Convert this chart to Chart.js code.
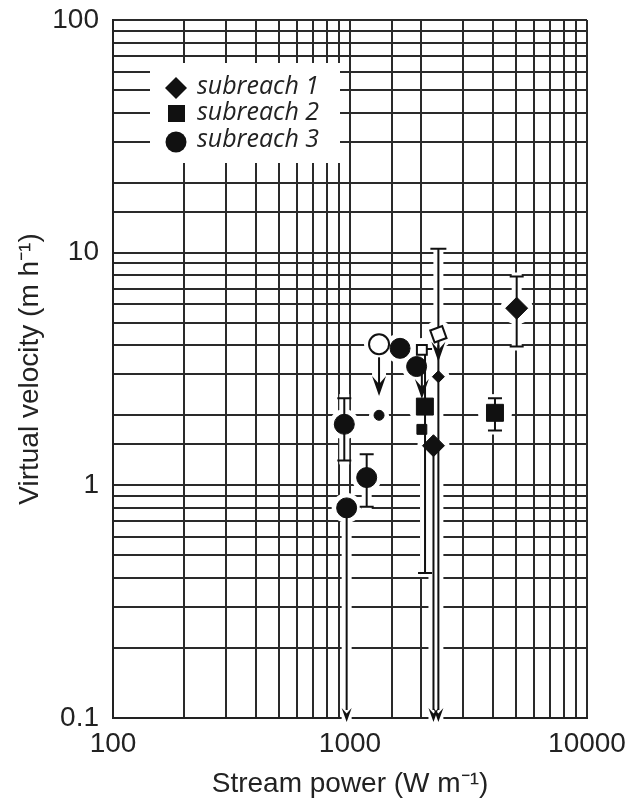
<!DOCTYPE html>
<html>
<head>
<meta charset="utf-8">
<script src="https://cdn.jsdelivr.net/npm/chart.js@4.4.1/dist/chart.umd.min.js"></script>
<style>
  html, body { margin: 0; padding: 0; background: #fff; }
  #wrap { width: 628px; height: 803px; }
</style>
</head>
<body>
<div id="wrap"><canvas id="chart" width="628" height="803"></canvas></div>
<script>
// labelled ticks
const powerTicks = [100, 1000, 10000];
const velocityTicks = [0.1, 1, 10, 100];

// main symbols (stream power W m-1, virtual velocity m h-1)
const sub1Power = [5050, 2250];
const sub1Velocity = [5.77, 1.48];
const sub2Power = [4090, 2070];
const sub2Velocity = [2.05, 2.18];
const sub3Power = [946, 1176, 968, 1626, 1910];
const sub3Velocity = [1.83, 1.08, 0.80, 3.88, 3.24];

// small filled symbols
const sub1SmallPower = [2360];
const sub1SmallVelocity = [2.93];
const sub2SmallPower = [2010];
const sub2SmallVelocity = [1.74];
const sub3SmallPower = [1326];
const sub3SmallVelocity = [2.0];

// open symbols
const sub1OpenPower = [2360];
const sub1OpenVelocity = [4.46];
const sub2OpenPower = [2010];
const sub2OpenVelocity = [3.82];
const sub3OpenPower = [1326];
const sub3OpenVelocity = [4.04];

// error bars
const errPower = [5050, 4090, 946, 1176, 2073];
const errLow = [3.95, 1.72, 1.28, 0.81, 0.42];
const errHigh = [7.9, 2.37, 2.37, 1.36, 3.85];

// ranges that run off the bottom of the plot
const openEndPower = [968, 2250, 2360];
const openEndTop = [0.80, 1.48, 10.4];
const openEndCap = [false, false, true];

// shift arrows (open symbol -> filled symbol)
const shiftPower = [1326, 2010, 2360];
const shiftFrom = [3.55, 3.1, 4.0];
const shiftTo = [2.42, 2.35, 3.4];

function pts(xs, ys) {
    return xs.map((x, i) => ({ x: x, y: ys[i] }));
}

function arrowHead(ctx, x, y, w, h) {
    // tip at (x, y), pointing down
    ctx.beginPath();
    ctx.moveTo(x, y);
    ctx.lineTo(x - w, y - h);
    ctx.lineTo(x, y - h * 0.6);
    ctx.lineTo(x + w, y - h);
    ctx.closePath();
    ctx.fill();
}

const overlay = {
    id: 'overlay',
    beforeDatasetsDraw(chart) {
        const ctx = chart.ctx;
        const xs = chart.scales.x, ys = chart.scales.y;
        const bottom = chart.chartArea.bottom;
        ctx.save();
        ctx.fillStyle = '#fff';
        ctx.strokeStyle = '#fff';

        // legend background
        ctx.fillRect(150, 63, 190, 100);

        // white gaps round the bars
        ctx.lineWidth = 10;
        errPower.forEach((p, i) => {
            const x = xs.getPixelForValue(p);
            ctx.beginPath();
            ctx.moveTo(x, ys.getPixelForValue(errHigh[i]) - 4);
            ctx.lineTo(x, ys.getPixelForValue(errLow[i]) + 4);
            ctx.stroke();
        });
        openEndPower.forEach((p, i) => {
            const x = xs.getPixelForValue(p);
            ctx.beginPath();
            ctx.moveTo(x, ys.getPixelForValue(openEndTop[i]) - 4);
            ctx.lineTo(x, bottom + 4);
            ctx.stroke();
        });
        ctx.lineWidth = 14;
        shiftPower.forEach((p, i) => {
            const x = xs.getPixelForValue(p);
            ctx.beginPath();
            ctx.moveTo(x, ys.getPixelForValue(shiftFrom[i]));
            ctx.lineTo(x, ys.getPixelForValue(shiftTo[i]));
            ctx.stroke();
        });

        // white gaps round the symbols
        chart.data.datasets.forEach((ds, i) => {
            chart.getDatasetMeta(i).data.forEach(el => {
                ctx.beginPath();
                ctx.arc(el.x, el.y, el.options.radius + 5, 0, Math.PI * 2);
                ctx.fill();
            });
        });

        // bars
        ctx.strokeStyle = '#111';
        ctx.fillStyle = '#111';
        ctx.lineWidth = 2;
        const cap = 7;
        errPower.forEach((p, i) => {
            const x = xs.getPixelForValue(p);
            const yt = ys.getPixelForValue(errHigh[i]);
            const yb = ys.getPixelForValue(errLow[i]);
            ctx.beginPath();
            ctx.moveTo(x, yt); ctx.lineTo(x, yb);
            ctx.moveTo(x - cap, yt); ctx.lineTo(x + cap, yt);
            ctx.moveTo(x - cap, yb); ctx.lineTo(x + cap, yb);
            ctx.stroke();
        });
        openEndPower.forEach((p, i) => {
            const x = xs.getPixelForValue(p);
            const yt = ys.getPixelForValue(openEndTop[i]);
            ctx.beginPath();
            ctx.moveTo(x, yt); ctx.lineTo(x, bottom - 8);
            if (openEndCap[i]) { ctx.moveTo(x - cap - 1, yt); ctx.lineTo(x + cap + 1, yt); }
            ctx.stroke();
            arrowHead(ctx, x, bottom + 4, 5, 14);
        });
        shiftPower.forEach((p, i) => {
            const x = xs.getPixelForValue(p);
            const y0 = ys.getPixelForValue(shiftFrom[i]);
            const y1 = ys.getPixelForValue(shiftTo[i]);
            ctx.beginPath();
            ctx.moveTo(x, y0); ctx.lineTo(x, y1 - 6);
            ctx.stroke();
            arrowHead(ctx, x, y1, 7, 20);
        });
        ctx.restore();
    },
    afterDraw(chart) {
        const ctx = chart.ctx;
        ctx.save();
        ctx.fillStyle = '#111';
        // legend symbols
        ctx.beginPath();
        ctx.moveTo(176, 77); ctx.lineTo(187, 88); ctx.lineTo(176, 99); ctx.lineTo(165, 88);
        ctx.closePath(); ctx.fill();
        ctx.fillRect(168, 105, 17, 17);
        ctx.beginPath(); ctx.arc(176, 142, 10.5, 0, Math.PI * 2); ctx.fill();
        // legend text
        ctx.font = 'italic 25px "Open Sans", "Liberation Sans", sans-serif';
        ctx.textBaseline = 'middle';
        ctx.fillStyle = '#222';
        ctx.fillText('subreach 1', 197, 87);
        ctx.fillText('subreach 2', 197, 113);
        ctx.fillText('subreach 3', 197, 140);
        ctx.restore();
    }
};

function tickLabel(list) {
    return function (v) {
        const hit = list.find(t => Math.abs(t - v) / t < 1e-6);
        if (hit === undefined) return '';
        return hit < 1 ? hit.toFixed(1) : String(hit);
    };
}

const black = '#111';
const axisFont = { family: '"Liberation Sans", Arial, sans-serif', size: 28 };

new Chart(document.getElementById('chart'), {
    type: 'scatter',
    data: {
        datasets: [
            { label: 'subreach 1', data: pts(sub1Power, sub1Velocity), pointStyle: 'rectRot', radius: 11, backgroundColor: black, borderColor: black, borderWidth: 1 },
            { label: 'subreach 2', data: pts(sub2Power, sub2Velocity), pointStyle: 'rect', radius: 12, backgroundColor: black, borderColor: black, borderWidth: 1 },
            { label: 'subreach 3', data: pts(sub3Power, sub3Velocity), pointStyle: 'circle', radius: 10, backgroundColor: black, borderColor: black, borderWidth: 1 },
            { label: 'subreach 1 small', data: pts(sub1SmallPower, sub1SmallVelocity), pointStyle: 'rectRot', radius: 6, backgroundColor: black, borderColor: black, borderWidth: 1 },
            { label: 'subreach 2 small', data: pts(sub2SmallPower, sub2SmallVelocity), pointStyle: 'rect', radius: 7, backgroundColor: black, borderColor: black, borderWidth: 1 },
            { label: 'subreach 3 small', data: pts(sub3SmallPower, sub3SmallVelocity), pointStyle: 'circle', radius: 5, backgroundColor: black, borderColor: black, borderWidth: 1 },
            { label: 'subreach 1 open', data: pts(sub1OpenPower, sub1OpenVelocity), pointStyle: 'rectRot', rotation: 25, radius: 9, backgroundColor: '#fff', borderColor: black, borderWidth: 2 },
            { label: 'subreach 2 open', data: pts(sub2OpenPower, sub2OpenVelocity), pointStyle: 'rect', radius: 7, backgroundColor: '#fff', borderColor: black, borderWidth: 2 },
            { label: 'subreach 3 open', data: pts(sub3OpenPower, sub3OpenVelocity), pointStyle: 'circle', radius: 10, backgroundColor: '#fff', borderColor: black, borderWidth: 2 }
        ]
    },
    options: {
        responsive: false,
        animation: false,
        layout: { padding: { top: 20, right: 41, left: 0, bottom: 0 } },
        plugins: {
            legend: { display: false },
            tooltip: { enabled: false }
        },
        scales: {
            x: {
                type: 'logarithmic',
                min: 100,
                max: 10000,
                afterFit(s) {
                    s.height = 85;
                    s.paddingLeft = 0;
                    s.paddingRight = 0;
                },
                grid: { color: '#2a2a2a', lineWidth: 2, drawTicks: false },
                border: { color: '#222', width: 2 },
                ticks: {
                    autoSkip: false,
                    maxRotation: 0,
                    padding: 9,
                    color: '#222',
                    font: axisFont,
                    callback: tickLabel(powerTicks)
                },
                title: {
                    display: true,
                    text: 'Stream power (W m\u207B\u00B9)',
                    color: '#222',
                    padding: { top: 0, bottom: 2 },
                    font: axisFont
                }
            },
            y: {
                type: 'logarithmic',
                min: 0.1,
                max: 100,
                afterFit(s) {
                    s.width = 113;
                    s.paddingTop = 0;
                    s.paddingBottom = 0;
                },
                grid: { color: '#2a2a2a', lineWidth: 2, drawTicks: false },
                border: { color: '#222', width: 2 },
                ticks: {
                    autoSkip: false,
                    padding: 14,
                    color: '#222',
                    font: axisFont,
                    callback: tickLabel(velocityTicks)
                },
                title: {
                    display: true,
                    text: 'Virtual velocity (m h\u207B\u00B9)',
                    color: '#222',
                    padding: { top: 13, bottom: 0 },
                    font: axisFont
                }
            }
        }
    },
    plugins: [overlay]
});
</script>
</body>
</html>
